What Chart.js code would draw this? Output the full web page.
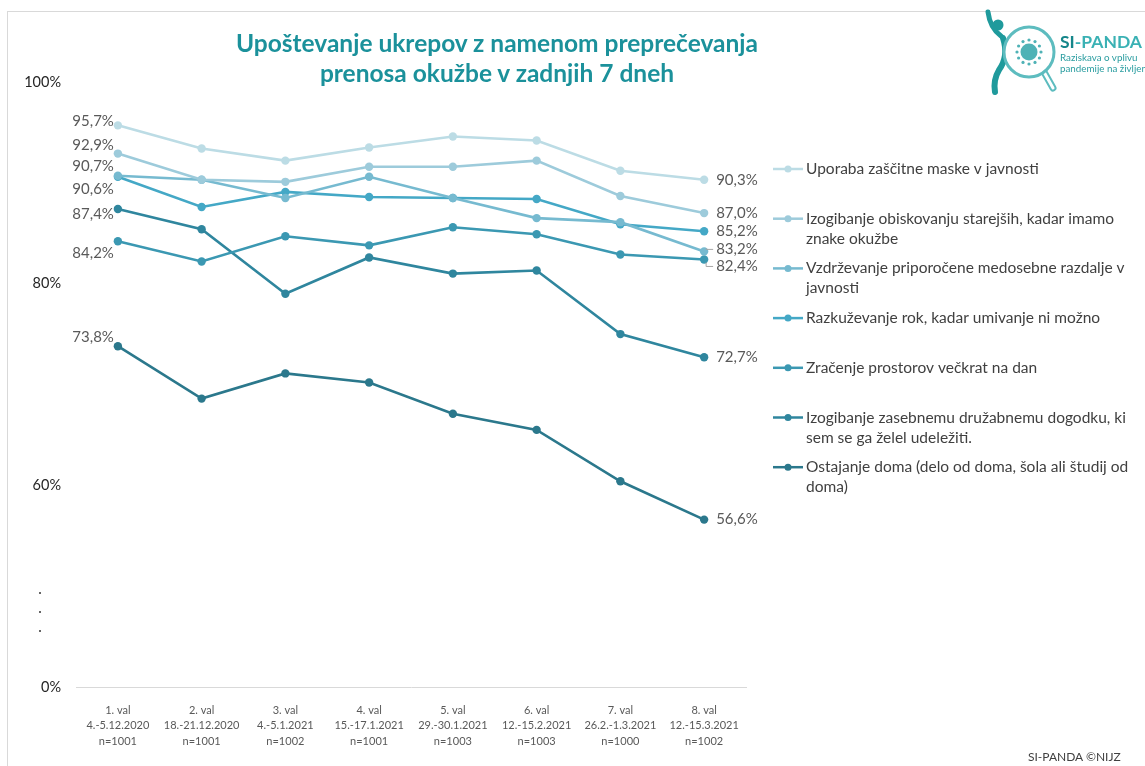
<!DOCTYPE html>
<html lang="sl">
<head>
<meta charset="UTF-8">
<title>SI-PANDA – upoštevanje ukrepov</title>
<script src="https://cdn.jsdelivr.net/npm/chart.js@4.4.0/dist/chart.umd.min.js"></script>
<style>
  html, body { margin: 0; padding: 0; background: #fff; overflow: hidden; }
  #wrap { position: relative; width: 1145px; height: 766px; font-family: Lato, "Open Sans", sans-serif; }
  #frame { position: absolute; left: 7px; top: 11px; width: 1200px; height: 800px;
           border-left: 1px solid #d9d9d9; border-top: 1px solid #d9d9d9; }
  #chart { position: absolute; left: 0; top: 0; }
  #title { position: absolute; left: 147px; top: 28px; width: 700px; text-align: center;
           color: #1b919b; font-weight: bold; font-size: 24.5px; line-height: 30px; }
  #logo { position: absolute; left: 960px; top: 0; }
  #footer { position: absolute; left: 1028px; top: 749px; font-size: 12px; color: #404040; }
  .dot { position: absolute; left: 39px; width: 2px; height: 2px; background: #333; border-radius: 1px; }
</style>
</head>
<body>
<div id="wrap">
  <div id="frame"></div>
  <canvas id="chart" width="1145" height="766"></canvas>
  <div id="title">Upoštevanje ukrepov z namenom preprečevanja<br>prenosa okužbe v zadnjih 7 dneh</div>

  <!-- axis break marks between 60% and 0% -->
  <div class="dot" style="top:592px"></div>
  <div class="dot" style="top:611px"></div>
  <div class="dot" style="top:630px"></div>

  <svg id="logo" width="185" height="100" viewBox="0 0 185 100">
    <circle cx="38" cy="25" r="5.5" fill="#1f9a9c"/>
    <path d="M28 12 Q30 28 41 36" stroke="#1f9a9c" stroke-width="5" fill="none" stroke-linecap="round"/>
    <path d="M43 38 Q49 56 39 70 Q33 80 35 92" stroke="#1f9a9c" stroke-width="6" fill="none" stroke-linecap="round"/>
    <line x1="84" y1="72" x2="93" y2="88" stroke="#5dbcbf" stroke-width="7" stroke-linecap="round"/>
    <line x1="84" y1="72" x2="93" y2="88" stroke="#fff" stroke-width="3" stroke-linecap="round"/>
    <circle cx="69" cy="52" r="25" fill="#fff" stroke="#5dbcbf" stroke-width="3"/>
    <circle cx="69" cy="52" r="8.5" fill="#4fb2b6"/>
    <g fill="#4fb2b6">
      <circle cx="81" cy="52" r="1.6"/><circle cx="79.4" cy="58" r="1.6"/><circle cx="75" cy="62.4" r="1.6"/>
      <circle cx="69" cy="64" r="1.6"/><circle cx="63" cy="62.4" r="1.6"/><circle cx="58.6" cy="58" r="1.6"/>
      <circle cx="57" cy="52" r="1.6"/><circle cx="58.6" cy="46" r="1.6"/><circle cx="63" cy="41.6" r="1.6"/>
      <circle cx="69" cy="40" r="1.6"/><circle cx="75" cy="41.6" r="1.6"/><circle cx="79.4" cy="46" r="1.6"/>
    </g>
    <text x="100" y="48" font-family="Lato, sans-serif" font-weight="bold" font-size="17.5">
      <tspan fill="#15868a">SI</tspan><tspan fill="#3ab1b4">-PANDA</tspan></text>
    <text x="100" y="61" font-family="Lato, sans-serif" font-size="9.8" fill="#2a9da0">Raziskava o vplivu</text>
    <text x="100" y="72" font-family="Lato, sans-serif" font-size="9.8" fill="#2a9da0">pandemije na življenje</text>
  </svg>

  <div id="footer">SI-PANDA ©NIJZ</div>
</div>

<script>
// survey waves (x axis, three lines each)
const waves = [
  ["1. val", "4.-5.12.2020", "n=1001"],
  ["2. val", "18.-21.12.2020", "n=1001"],
  ["3. val", "4.-5.1.2021", "n=1002"],
  ["4. val", "15.-17.1.2021", "n=1001"],
  ["5. val", "29.-30.1.2021", "n=1003"],
  ["6. val", "12.-15.2.2021", "n=1003"],
  ["7. val", "26.2.-1.3.2021", "n=1000"],
  ["8. val", "12.-15.3.2021", "n=1002"]
];

// legend names, split where the legend wraps
const seriesNames = [
  ["Uporaba zaščitne maske v javnosti"],
  ["Izogibanje obiskovanju starejših, kadar imamo", "znake okužbe"],
  ["Vzdrževanje priporočene medosebne razdalje v", "javnosti"],
  ["Razkuževanje rok, kadar umivanje ni možno"],
  ["Zračenje prostorov večkrat na dan"],
  ["Izogibanje zasebnemu družabnemu dogodku, ki", "sem se ga želel udeležiti."],
  ["Ostajanje doma (delo od doma, šola ali študij od", "doma)"]
];

// share in % per wave
const maska       = [95.7, 93.4, 92.2, 93.5, 94.6, 94.2, 91.2, 90.3];
const starejsi    = [92.9, 90.3, 90.1, 91.6, 91.6, 92.2, 88.7, 87.0];
const razdalja    = [90.7, 90.3, 88.5, 90.6, 88.5, 86.5, 86.1, 83.2];
const razkuzevanje= [90.6, 87.6, 89.1, 88.6, 88.5, 88.4, 85.9, 85.2];
const zracenje    = [84.2, 82.2, 84.7, 83.8, 85.6, 84.9, 82.9, 82.4];
const druzabni    = [87.4, 85.4, 79.0, 82.6, 81.0, 81.3, 75.0, 72.7];
const doma        = [73.8, 68.6, 71.1, 70.2, 67.1, 65.5, 60.4, 56.6];

// the y axis is broken: the lowest tick stands for 0 %
const yTickValues = [40, 60, 80, 100];
const yTickLabels = ["0%", "60%", "80%", "100%"];

const colors = ["#bcdce5", "#9dcbdb", "#76bad0", "#44a8c6", "#3b98b2", "#2f869e", "#2b788c"];
const allSeries = [maska, starejsi, razdalja, razkuzevanje, zracenje, druzabni, doma];

// nudges for the end labels so they don't overlap (first point, last point)
const firstLabelShift = [-4, -8, -10, 12, 12, 5, -9];
const lastLabelShift  = [0, 0, -2, 0, 7, 0, 0];

const FONT = "Lato, 'Open Sans', sans-serif";
const fmt = v => v.toFixed(1).replace(".", ",") + "%";

const endLabels = {
  id: "endLabels",
  afterDatasetsDraw(chart) {
    const ctx = chart.ctx;
    ctx.save();
    ctx.font = "15px " + FONT;
    ctx.fillStyle = "#595959";
    ctx.textBaseline = "middle";
    chart.data.datasets.forEach((ds, i) => {
      const meta = chart.getDatasetMeta(i);
      const p0 = meta.data[0], pN = meta.data[meta.data.length - 1];
      ctx.textAlign = "right";
      ctx.fillText(fmt(ds.data[0]), p0.x - 4, p0.y + firstLabelShift[i]);
      ctx.textAlign = "left";
      const ly = pN.y + lastLabelShift[i];
      ctx.fillText(fmt(ds.data[ds.data.length - 1]), pN.x + 12, ly);
      if (lastLabelShift[i] !== 0) {
        // small leader line to a shifted label
        ctx.strokeStyle = "#a6a6a6";
        ctx.lineWidth = 1;
        ctx.beginPath();
        ctx.moveTo(pN.x + 2, pN.y + Math.sign(lastLabelShift[i]) * 3);
        ctx.lineTo(pN.x + 2, ly);
        ctx.lineTo(pN.x + 9, ly);
        ctx.stroke();
      }
    });
    ctx.restore();
  }
};

const sideLegend = {
  id: "sideLegend",
  afterDraw(chart) {
    const ctx = chart.ctx;
    ctx.save();
    ctx.font = "15.5px " + FONT;
    ctx.textBaseline = "middle";
    ctx.textAlign = "left";
    seriesNames.forEach((lines, i) => {
      const y = 169 + i * 49.7;
      ctx.strokeStyle = colors[i];
      ctx.fillStyle = colors[i];
      ctx.lineWidth = 2.5;
      ctx.beginPath();
      ctx.moveTo(773, y);
      ctx.lineTo(803, y);
      ctx.stroke();
      ctx.beginPath();
      ctx.arc(788, y, 3.5, 0, Math.PI * 2);
      ctx.fill();
      ctx.fillStyle = "#404040";
      lines.forEach((t, k) => ctx.fillText(t, 806, y + k * 20));
    });
    ctx.restore();
  }
};

new Chart(document.getElementById("chart"), {
  type: "line",
  data: {
    labels: waves,
    datasets: allSeries.map((d, i) => ({
      label: seriesNames[i].join(" "),
      data: d,
      borderColor: colors[i],
      backgroundColor: colors[i],
      pointBackgroundColor: colors[i],
      pointBorderWidth: 0,
      pointRadius: 4.2,
      borderWidth: 2.6,
      tension: 0,
      clip: false
    }))
  },
  options: {
    responsive: false,
    animation: false,
    layout: { padding: { top: 82, right: 399, bottom: 0, left: 0 } },
    plugins: { legend: { display: false }, tooltip: { enabled: false }, title: { display: false } },
    scales: {
      x: {
        offset: true,
        grid: { display: false },
        border: { display: true, color: "#d9d9d9", width: 1 },
        ticks: { autoSkip: false, maxRotation: 0, padding: 7, color: "#595959",
                 font: { family: FONT, size: 11, lineHeight: 1.45 } },
        afterFit(scale) { scale.height = 79; }
      },
      y: {
        min: 40,
        max: 100,
        grid: { display: false },
        border: { display: false },
        afterBuildTicks(scale) { scale.ticks = yTickValues.map(v => ({ value: v })); },
        ticks: { padding: 7, color: "#262626", font: { family: FONT, size: 14.5 },
                 callback: v => yTickLabels[yTickValues.indexOf(v)] },
        afterFit(scale) { scale.width = 76; }
      }
    }
  },
  plugins: [endLabels, sideLegend]
});
</script>
</body>
</html>
